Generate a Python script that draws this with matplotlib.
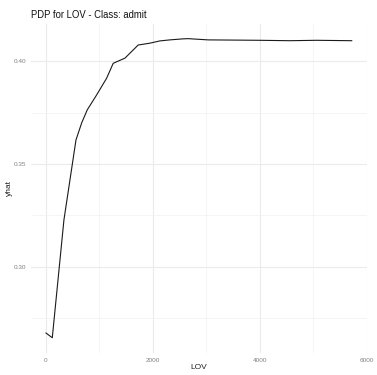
import matplotlib
matplotlib.use("Agg")
import matplotlib.pyplot as plt
from matplotlib.ticker import FixedLocator

plt.rcParams['font.family'] = ['Liberation Sans', 'DejaVu Sans']

# Partial dependence of predicted probability (class "admit") on LOV
lov = [0, 118, 336, 561, 667, 772, 948, 1134, 1258, 1477, 1725, 1944,
       2131, 2318, 2566, 2660, 3033, 4000, 4560, 5060, 5720]
yhat = [0.2677, 0.2654, 0.3228, 0.3617, 0.3700, 0.3764, 0.3837, 0.3918,
        0.3991, 0.4016, 0.4080, 0.4089, 0.4100, 0.4105, 0.4110, 0.4111,
        0.4105, 0.4103, 0.4101, 0.4103, 0.4101]

x_ticks = [0, 2000, 4000, 6000]
x_minor = [1000, 3000, 5000]
y_ticks = [0.30, 0.35, 0.40]
y_minor = [0.275, 0.325, 0.375]
y_tick_labels = ["0.30", "0.35", "0.40"]

W, H = 377, 375
fig = plt.figure(figsize=(W / 100, H / 100), dpi=100)
ax = fig.add_axes([0.0814, 0.0595, 0.8921, 0.8773])

ax.plot(lov, yhat, color='#1a1a1a', linewidth=0.8, zorder=3)

span_x = max(lov) - min(lov)
span_y = max(yhat) - min(yhat)
ax.set_xlim(min(lov) - 0.05 * span_x, max(lov) + 0.05 * span_x)
ax.set_ylim(min(yhat) - 0.05 * span_y, max(yhat) + 0.05 * span_y)

ax.xaxis.set_major_locator(FixedLocator(x_ticks))
ax.xaxis.set_minor_locator(FixedLocator(x_minor))
ax.yaxis.set_major_locator(FixedLocator(y_ticks))
ax.yaxis.set_minor_locator(FixedLocator(y_minor))
ax.set_xticklabels([str(t) for t in x_ticks])
ax.set_yticklabels(y_tick_labels)

ax.grid(which='major', color='#EBEBEB', linewidth=0.8)
ax.grid(which='minor', color='#F2F2F2', linewidth=0.5)
ax.set_axisbelow(True)
for s in ax.spines.values():
    s.set_visible(False)
ax.tick_params(which='both', length=0, labelsize=4.6, labelcolor='#808080')
ax.tick_params(axis='y', pad=3)
ax.tick_params(axis='x', pad=3.5)

ax.set_xlabel("LOV", fontsize=6.0, color='#222222')
ax.set_ylabel("yhat", fontsize=6.0, color='#222222')
ax.xaxis.set_label_coords(0.5, -0.035)
ax.yaxis.set_label_coords(-0.053, 0.5)

fig.text(31 / W, 1 - 17.7 / H, "PDP for LOV - Class: admit", fontsize=6.85,
         color='#111111', ha='left', va='baseline')

fig.savefig("out.png", dpi=100)
